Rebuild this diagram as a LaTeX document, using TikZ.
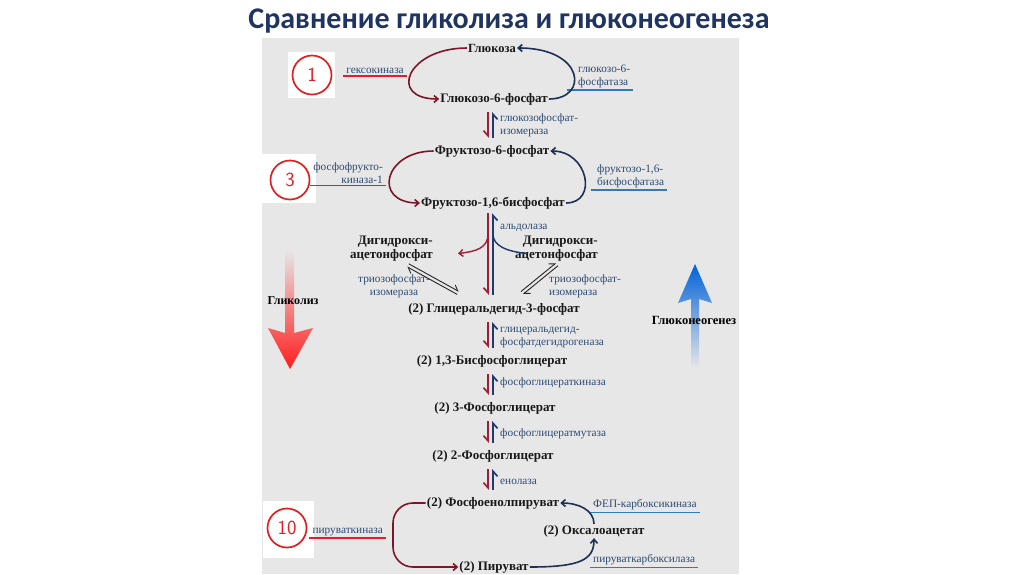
\documentclass[tikz,border=0pt]{standalone}
\usepackage{fontspec}
\setmainfont{Liberation Serif}
\newfontfamily\titlefont{Carlito}
\usetikzlibrary{arrows.meta}

\definecolor{panelgray}{HTML}{E7E7E7}
\definecolor{titleblue}{HTML}{1F3461}
\definecolor{enzblue}{HTML}{2D4B73}
\definecolor{glycred}{HTML}{7D1628}
\definecolor{glucblue}{HTML}{1C3154}
\definecolor{pairred}{HTML}{A01E36}
\definecolor{pairblue}{HTML}{1F3B6B}
\definecolor{barred}{HTML}{E41E26}
\definecolor{barblue}{HTML}{2F7BC0}
\definecolor{numred}{HTML}{E02020}

\tikzset{
  metab/.style={font=\bfseries\fontsize{13}{14}\selectfont, text=black!90, inner sep=1pt},
  enz/.style={font=\fontsize{11.3}{13}\selectfont, text=enzblue, inner xsep=3pt, inner ysep=2pt},
  glyc/.style={draw=glycred, line width=1.6pt, -{Straight Barb[length=4pt,width=7pt]}},
  gluc/.style={draw=glucblue, line width=1.6pt, -{Straight Barb[length=4pt,width=7pt]}},
  pairdown/.style={draw=pairred, line width=1.7pt, -{Straight Barb[harpoon,swap,length=5pt,width=9pt]}},
  pairup/.style={draw=pairblue, line width=1.7pt, -{Straight Barb[harpoon,swap,length=5pt,width=9pt]}},
  eqline/.style={draw=black!85, line width=0.9pt, -{Straight Barb[harpoon,length=5pt,width=8pt]}},
  redbar/.style={draw=barred, line width=1.6pt},
  bluebar/.style={draw=barblue, line width=1.6pt},
  numbox/.style={fill=white, inner sep=0pt},
  numcircle/.style={circle, draw=numred, line width=1.7pt, minimum size=39pt, inner sep=0pt,
    text=numred, font=\sffamily\fontsize{20}{20}\selectfont}
}

\begin{document}
\begin{tikzpicture}[x=1pt,y=-1pt]
  \useasboundingbox (0,0) rectangle (1024,574);
  \fill[white] (0,0) rectangle (1024,574);
  \fill[panelgray] (262,38) rectangle (739,574);

  %Title
  \node[font=\titlefont\bfseries\fontsize{30}{31}\selectfont, text=titleblue] (Title) at (509,21)
    {Сравнение гликолиза и глюконеогенеза};

  %Step numbers
  \node[numbox, minimum width=47pt, minimum height=46pt] (BoxOne) at (311,75) {};
  \node[numcircle] (NumOne) at (312,75) {1};
  \node[numbox, minimum width=55pt, minimum height=49pt] (BoxThree) at (288,178) {};
  \node[numcircle] (NumThree) at (290,180) {3};
  \node[numbox, minimum width=51pt, minimum height=57pt] (BoxTen) at (288,529) {};
  \node[numcircle] (NumTen) at (287,528) {10};

  %Big arrows
  \shade[top color=panelgray, middle color=red!60!pink, bottom color=red!85!pink]
    (285,250) -- (285,333) -- (268,328) -- (290,369) -- (313,328) -- (294,333) -- (294,250) -- cycle;
  \node[font=\bfseries\fontsize{12}{13}\selectfont] (Glycolysis) at (293,301) {Гликолиз};
  \shade[top color=blue!55!cyan!85!black, middle color=cyan!40!blue!55, bottom color=panelgray]
    (695,264) -- (712,303) -- (699,299) -- (699,368) -- (691,368) -- (691,299) -- (678,303) -- cycle;
  \node[font=\bfseries\fontsize{12.5}{13}\selectfont] (Gluconeo) at (694,320) {Глюконеогенез};

  %Metabolites
  \node[metab, font=\bfseries\fontsize{12.5}{13}\selectfont] (Glucose) at (492,48) {Глюкоза};
  \node[metab] (GSixP) at (494,99) {Глюкозо-6-фосфат};
  \node[metab] (FSixP) at (492,151) {Фруктозо-6-фосфат};
  \node[metab] (FBP) at (493,203) {Фруктозо-1,6-бисфосфат};
  \node[metab, align=right, anchor=east] (DHAPL) at (434,248.5) {Дигидрокси-\\ацетонфосфат};
  \node[metab, align=right, anchor=east] (DHAPR) at (599,248.5) {Дигидрокси-\\ацетонфосфат};
  \node[metab] (GAP) at (494,309) {(2) Глицеральдегид-3-фосфат};
  \node[metab] (BPG) at (492,361) {(2) 1,3-Бисфосфоглицерат};
  \node[metab] (PGthree) at (495,408) {(2) 3-Фосфоглицерат};
  \node[metab] (PGtwo) at (493,456) {(2) 2-Фосфоглицерат};
  \node[metab] (PEP) at (493,503) {(2) Фосфоенолпируват};
  \node[metab] (OAA) at (594,531) {(2) Оксалоацетат};
  \node[metab] (Pyr) at (494,567) {(2) Пируват};

  %Enzymes
  \node[enz] (Hexo) at (375,71) {гексокиназа};
  \node[enz, align=left, anchor=west] (GSixPase) at (575,76.5) {глюкозо-6-\\фосфатаза};
  \node[enz, align=left, anchor=west] (GPI) at (497,125.5) {глюкозофосфат-\\изомераза};
  \node[enz, align=right, anchor=east] (PFK) at (386,173) {фосфофрукто-\\киназа-1};
  \node[enz, align=left, anchor=west] (FBPase) at (594,176) {фруктозо-1,6-\\бисфосфатаза};
  \node[enz, anchor=west] (Aldolase) at (497,228) {альдолаза};
  \node[enz, align=center] (TIML) at (394,286) {триозофосфат-\\изомераза};
  \node[enz, align=left, anchor=west] (TIMR) at (546,286) {триозофосфат-\\изомераза};
  \node[enz, align=left, anchor=west] (GAPDH) at (497,337.5) {глицеральдегид-\\фосфатдегидрогеназа};
  \node[enz, anchor=west] (PGK) at (497,383) {фосфоглицераткиназа};
  \node[enz, anchor=west] (PGM) at (497,434) {фосфоглицератмутаза};
  \node[enz, anchor=west] (Enolase) at (497,482) {енолаза};
  \node[enz, anchor=east] (PK) at (386,532) {пируваткиназа};
  \node[enz, anchor=west] (PEPCK) at (590,505) {ФЕП-карбоксикиназа};
  \node[enz, anchor=west] (PC) at (590,560) {пируваткарбоксилаза};

  %Underlines
  \draw[redbar] (Hexo.south west) -- (Hexo.south east);
  \draw[redbar] (PFK.south west) -- (PFK.south east);
  \draw[redbar] (PK.south west) -- (PK.south east);
  \draw[bluebar] ([shift={(-8,0)}]GSixPase.south west) -- (GSixPase.south east);
  \draw[bluebar] ([shift={(-3,0)}]FBPase.south west) -- (FBPase.south east);
  \draw[bluebar] (PEPCK.south west) -- (PEPCK.south east);
  \draw[bluebar] (PC.south west) -- (PC.south east);

  %Bypass arcs
  \draw[glyc] (Glucose.west) .. controls +(-60,0) and +(-52,0) .. (GSixP.west);
  \draw[gluc] (GSixP.east) .. controls +(40,0) and +(68,0) .. (Glucose.east);
  \draw[glyc] (FSixP.west) .. controls +(-50,0) and +(-48,0) .. (FBP.west);
  \draw[gluc] (FBP.east) .. controls +(32,0) and +(38,0) .. (FSixP.east);
  \coordinate (PKturn) at (393,534);
  \draw[glyc, rounded corners=20pt] (PEP.west) -- (PEP.west -| PKturn) -- (Pyr.west -| PKturn) -- (Pyr.west);
  \draw[gluc] (Pyr.east) .. controls +(50,0) and +(0,22) .. (OAA.south);
  \draw[gluc] (OAA.north) .. controls +(0,-14) and +(18,0) .. (PEP.east);

  %Reversible steps
  \coordinate (AxisR) at (488,0);
  \coordinate (AxisB) at (493,0);
  \foreach \up/\down in {GSixP/FSixP, GAP/BPG, BPG/PGthree, PGthree/PGtwo, PGtwo/PEP}{
    \draw[pairdown, shorten <=6pt, shorten >=6pt] (\up.south -| AxisR) -- (\down.north -| AxisR);
    \draw[pairup, shorten <=6pt, shorten >=6pt] (\down.north -| AxisB) -- (\up.south -| AxisB);
  }

  %Aldolase
  \draw[pairdown, shorten <=3pt, shorten >=7pt] (FBP.south -| AxisR) -- (GAP.north -| AxisR);
  \draw[pairup, shorten <=7pt, shorten >=3pt] (GAP.north -| AxisB) -- (FBP.south -| AxisB);
  \coordinate (AldoR) at (488,234);
  \coordinate (AldoB) at (493,234);
  \draw[glyc, draw=pairred, line width=1.4pt] (AldoR) .. controls +(0,14) and +(18,-2) .. ([shift={(24,5)}]DHAPL.east);
  \draw[pairblue, line width=1.4pt] ([shift={(-72,5)}]DHAPR.east) .. controls +(-20,-2) and +(0,12) .. (AldoB);

  %Triose phosphate isomerase
  \draw[eqline] ([shift={(-25.2,1.5)}]DHAPL.south east) -- ([shift={(-35.2,-10.5)}]GAP.north);
  \draw[eqline] ([shift={(-36.8,-7.5)}]GAP.north) -- ([shift={(-26.8,4.5)}]DHAPL.south east);
  \draw[eqline] ([shift={(26.9,-10.3)}]GAP.north) -- ([shift={(-43.1,0.7)}]DHAPR.south east);
  \draw[eqline] ([shift={(-40.9,3.3)}]DHAPR.south east) -- ([shift={(29.1,-7.7)}]GAP.north);
\end{tikzpicture}
\end{document}
